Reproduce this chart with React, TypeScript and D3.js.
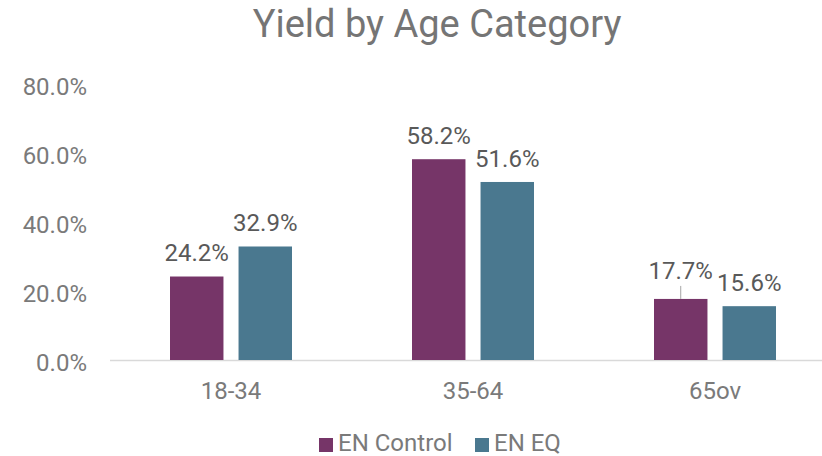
import { scaleBand, scaleLinear } from "d3";

const categories = ["18-34", "35-64", "65ov"];
const seriesNames = ["EN Control", "EN EQ"];
const enControl = [24.2, 58.2, 17.7];
const enEq = [32.9, 51.6, 15.6];
const yTicks = [0, 20, 40, 60, 80];
const colors = ["#763568", "#4a788f"];

const W = 822;
const H = 456;
const FONT = "Roboto, 'Open Sans', sans-serif";

export default function App() {
  const x = scaleBand<string>().domain(categories).range([110, 836]);
  const inner = scaleBand<number>().domain([0, 1]).range([0, 122]).paddingInner(0.22);
  const y = scaleLinear().domain([0, 80]).range([360, 84]);
  const series = [enControl, enEq];
  const bw = inner.bandwidth();

  return (
    <svg width={W} height={H} style={{ position: "absolute", left: 0, top: 0, background: "#fff" }} fontFamily={FONT}>
      <text x={437} y={37} textAnchor="middle" fontSize={38} fill="#757575">
        Yield by Age Category
      </text>

      {yTicks.map((t) => (
        <text key={t} x={87} y={y(t) + 2} dy="0.36em" textAnchor="end" fontSize={24} fill="#7a7a7a">
          {t.toFixed(1)}%
        </text>
      ))}

      <line x1={110} x2={W} y1={360.5} y2={360.5} stroke="#d9d9d9" strokeWidth={1.5} />

      {categories.map((c, ci) => {
        const gx = (x(c) ?? 0) + (x.bandwidth() - 122) / 2;
        return (
          <g key={c}>
            {series.map((vals, si) => {
              const bx = gx + (inner(si) ?? 0);
              const v = vals[ci];
              const top = y(v);
              // the 65ov control label sits higher, with a leader line
              const lifted = ci === 2 && si === 0;
              const ly = lifted ? top - 29 : top - 24;
              return (
                <g key={si}>
                  <rect x={bx} y={top} width={bw} height={360 - top} fill={colors[si]} />
                  {lifted && (
                    <line x1={bx + bw / 2} x2={bx + bw / 2} y1={top} y2={top - 13} stroke="#a6a6a6" strokeWidth={1} />
                  )}
                  <text x={bx + bw / 2} y={ly} dy="0.36em" textAnchor="middle" fontSize={24} fill="#595959">
                    {v.toFixed(1)}%
                  </text>
                </g>
              );
            })}
            <text x={(x(c) ?? 0) + x.bandwidth() / 2} y={399} textAnchor="middle" fontSize={24} fill="#7a7a7a">
              {c}
            </text>
          </g>
        );
      })}

      {seriesNames.map((s, i) => {
        const lx = i === 0 ? 319 : 475;
        return (
          <g key={s}>
            <rect x={lx} y={438} width={14} height={14} fill={colors[i]} />
            <text x={lx + 19} y={451} fontSize={24} fill="#7a7a7a">
              {s}
            </text>
          </g>
        );
      })}
    </svg>
  );
}
